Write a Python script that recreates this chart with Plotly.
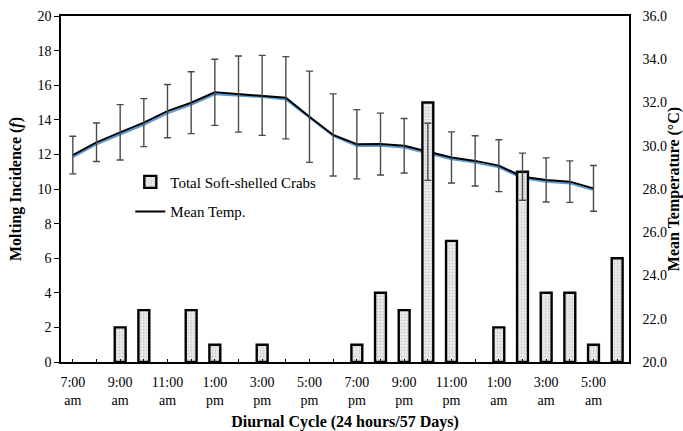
import plotly.graph_objects as go

categories = ["7:00 am", "8:00 am", "9:00 am", "10:00 am", "11:00 am", "12:00 pm",
              "1:00 pm", "2:00 pm", "3:00 pm", "4:00 pm", "5:00 pm", "6:00 pm",
              "7:00 pm", "8:00 pm", "9:00 pm", "10:00 pm", "11:00 pm", "12:00 am",
              "1:00 am", "2:00 am", "3:00 am", "4:00 am", "5:00 am", "6:00 am"]
tick_labels = ["7:00<br>am", "", "9:00<br>am", "", "11:00<br>am", "",
               "1:00<br>pm", "", "3:00<br>pm", "", "5:00<br>pm", "",
               "7:00<br>pm", "", "9:00<br>pm", "", "11:00<br>pm", "",
               "1:00<br>am", "", "3:00<br>am", "", "5:00<br>am", ""]
soft_shelled = [0, 0, 2, 3, 0, 3, 1, 0, 1, 0, 0, 0, 1, 4, 3, 15, 7, 0, 2, 11, 4, 4, 1, 6]
mean_temp = [29.57, 30.16, 30.62, 31.07, 31.60, 31.99, 32.47, 32.39, 32.33, 32.22,
             31.34, 30.50, 30.07, 30.08, 30.00, 29.72, 29.46, 29.30, 29.08, 28.57,
             28.42, 28.34, 28.03, None]
temp_sd = [0.87, 0.89, 1.28, 1.11, 1.23, 1.43, 1.53, 1.76, 1.85, 1.90, 2.11, 1.90,
           1.60, 1.43, 1.26, 1.32, 1.18, 1.16, 1.20, 1.09, 1.02, 0.96, 1.06, None]
blue_temp = [29.47, 30.06, 30.52, 30.97, 31.50, 31.89, 32.38, 32.31, 32.25, 32.14,
             31.30, 30.46, 29.99, 30.00, 29.92, 29.64, 29.38, 29.22, 29.00, 28.49,
             28.34, 28.26, 27.95, None]

FONT = "Liberation Serif"

bar_y = [v if v > 0 else None for v in soft_shelled]

fig = go.Figure()

fig.add_trace(go.Scatter(x=categories, y=blue_temp, mode="lines", yaxis="y",
                         line=dict(color="#5b9bd5", width=2), showlegend=False,
                         hoverinfo="skip"))
fig.add_trace(go.Scatter(x=categories, y=mean_temp, mode="lines", yaxis="y",
                         line=dict(color="black", width=2), name="Mean Temp.",
                         legend="legend2"))
fig.add_trace(go.Bar(x=categories, y=bar_y, yaxis="y2", width=0.46,
                     name="Total Soft-shelled Crabs", legend="legend",
                     marker=dict(color="#e9e9e9",
                                 line=dict(color="black", width=2.4),
                                 pattern=dict(shape=".", fgcolor="#aaaaaa",
                                              bgcolor="#ececec", size=3, solidity=0.3))))
fig.add_trace(go.Scatter(x=categories, y=mean_temp, mode="markers", yaxis="y3",
                         marker=dict(size=0.1, color="rgba(0,0,0,0)"),
                         error_y=dict(type="data", array=temp_sd, visible=True,
                                      color="#4a4a4a", thickness=1.4, width=3.5),
                         showlegend=False, hoverinfo="skip"))

fig.update_layout(
    width=683, height=431,
    margin=dict(l=61, r=54, t=16, b=69, autoexpand=False),
    paper_bgcolor="white", plot_bgcolor="white",
    font=dict(family=FONT, size=14, color="black"),
    barmode="overlay",
    xaxis=dict(type="category", categoryorder="array", categoryarray=categories,
               range=[-0.5, 23.5], tickmode="array", tickvals=categories,
               ticktext=tick_labels, ticks="inside", ticklen=3, tickcolor="black",
               showline=True, linecolor="black", linewidth=1.5, mirror=True,
               showgrid=False, zeroline=False, tickangle=0, automargin=False,
               ticklabelstandoff=6,
               tickfont=dict(family=FONT, size=14),
               title=dict(text="<b>Diurnal Cycle (24 hours/57 Days)</b>",
                          font=dict(family=FONT, size=16), standoff=14)),
    yaxis=dict(range=[20, 36], dtick=2, tickformat=".1f", side="right",
               showline=True, linecolor="black", linewidth=1.5,
               ticks="", ticklabelstandoff=9, automargin=False,
               showgrid=False, zeroline=False,
               tickfont=dict(family=FONT, size=14),
               title=dict(text="<b>Mean Temperature (°C)</b>",
                          font=dict(family=FONT, size=16), standoff=6)),
    yaxis2=dict(range=[0, 20], dtick=2, side="left", overlaying="y",
                showline=True, linecolor="black", linewidth=1.5,
                ticks="outside", ticklen=5, tickcolor="black", automargin=False,
                showgrid=False, zeroline=False,
                tickfont=dict(family=FONT, size=14),
                title=dict(text="<b>Molting Incidence (<i>f</i>)</b>",
                           font=dict(family=FONT, size=16), standoff=12)),
    yaxis3=dict(range=[20, 36], overlaying="y", side="right", visible=False),
    legend=dict(x=0.122, y=0.52, xanchor="left", yanchor="middle",
                bgcolor="rgba(0,0,0,0)", font=dict(family=FONT, size=15),
                itemwidth=30),
    legend2=dict(x=0.122, y=0.434, xanchor="left", yanchor="middle",
                 bgcolor="rgba(0,0,0,0)", font=dict(family=FONT, size=15),
                 itemwidth=30),
)

fig.write_html("out.html", config={"displayModeBar": False},
               post_script="document.body.style.margin='0';")
